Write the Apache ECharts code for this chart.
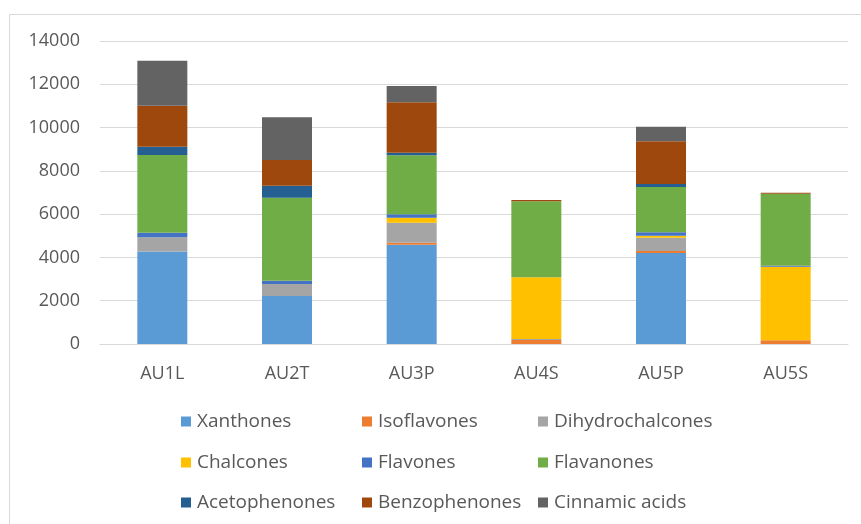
<!DOCTYPE html>
<html>
<head>
<meta charset="utf-8">
<script src="https://cdn.jsdelivr.net/npm/echarts@6/dist/echarts.min.js"></script>
<style>
  html, body { margin: 0; padding: 0; background: #fff; }
  #chart { width: 861px; height: 524px; }
</style>
</head>
<body>
<div id="chart"></div>
<script>
// Samples on the category axis
const categories = ['AU1L', 'AU2T', 'AU3P', 'AU4S', 'AU5P', 'AU5S'];

// Stacked compound-class amounts per sample
const xanthones        = [4270, 2220, 4590,    0, 4200,    0];
const isoflavones      = [   0,    0,   90,  180,   95,  170];
const dihydrochalcones = [ 660,  555,  925,   50,  615,    0];
const chalcones        = [   0,    0,  230, 2850,   95, 3400];
const flavones         = [ 210,  150,  155,    0,  155,   45];
const flavanones       = [3590, 3835, 2730, 3520, 2095, 3330];
const acetophenones    = [ 380,  555,  120,    0,  140,    0];
const benzophenones    = [1900, 1190, 2330,   50, 1970,   40];
const cinnamicAcids    = [2080, 1970,  750,    0,  675,    0];

// Value axis ticks
const yTicks = [0, 2000, 4000, 6000, 8000, 10000, 12000, 14000];

const seriesDefs = [
  { name: 'Xanthones',        data: xanthones,        color: '#5B9BD5' },
  { name: 'Isoflavones',      data: isoflavones,      color: '#ED7D31' },
  { name: 'Dihydrochalcones', data: dihydrochalcones, color: '#A5A5A5' },
  { name: 'Chalcones',        data: chalcones,        color: '#FFC000' },
  { name: 'Flavones',         data: flavones,         color: '#4472C4' },
  { name: 'Flavanones',       data: flavanones,       color: '#70AD47' },
  { name: 'Acetophenones',    data: acetophenones,    color: '#255E91' },
  { name: 'Benzophenones',    data: benzophenones,    color: '#9E480E' },
  { name: 'Cinnamic acids',   data: cinnamicAcids,    color: '#636363' }
];

const font = '"Open Sans", "Noto Sans", sans-serif';
const textColor = '#595959';

// Legend laid out as a 3x3 grid, one legend entry per cell
const legendCols = [181, 362, 538];
const legendRows = [420, 461, 501];   // row centre lines
const legends = seriesDefs.map((s, i) => ({
  data: [s.name],
  left: legendCols[i % 3],
  top: legendRows[Math.floor(i / 3)] - 8,
  itemWidth: 10,
  itemHeight: 10,
  itemGap: 0,
  icon: 'rect',
  padding: 0,
  selectedMode: false,
  textStyle: { fontFamily: font, fontSize: 19, color: textColor, padding: [0, 0, 0, 1] }
}));

const chart = echarts.init(document.getElementById('chart'), null, { renderer: 'canvas' });
chart.setOption({
  animation: false,
  backgroundColor: '#fff',
  color: seriesDefs.map(s => s.color),
  graphic: [{
    type: 'rect',
    shape: { x: 9.5, y: 14.5, width: 900, height: 600 },
    style: { fill: 'none', stroke: '#d9d9d9', lineWidth: 1 },
    silent: true,
    z: -1
  }],
  grid: { left: 100, right: 13, top: 41, bottom: 180 },
  legend: legends,
  xAxis: {
    type: 'category',
    data: categories,
    axisTick: { show: false },
    axisLine: { show: true, lineStyle: { color: '#d9d9d9', width: 1 } },
    axisLabel: { margin: 21, fontFamily: font, fontSize: 18, color: textColor }
  },
  yAxis: {
    type: 'value',
    min: yTicks[0],
    max: yTicks[yTicks.length - 1],
    interval: yTicks[1] - yTicks[0],
    axisLine: { show: false },
    axisTick: { show: false },
    splitLine: { lineStyle: { color: '#d9d9d9', width: 1 } },
    axisLabel: {
      margin: 20, fontFamily: font, fontSize: 18, color: textColor,
      formatter: v => String(v)
    }
  },
  series: seriesDefs.map(s => ({
    name: s.name,
    type: 'bar',
    stack: 'total',
    barWidth: 50,
    data: s.data,
    itemStyle: { color: s.color }
  }))
});
</script>
</body>
</html>
